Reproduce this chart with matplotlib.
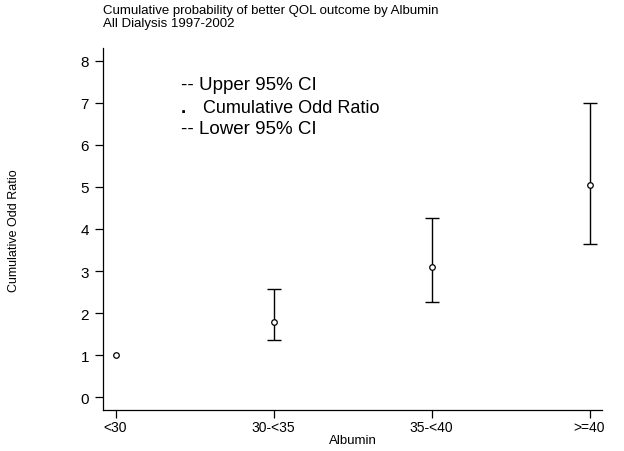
import matplotlib

matplotlib.use("Agg")
import matplotlib.pyplot as plt

categories = ["<30", "30-<35", "35-<40", ">=40"]
odds_ratio = [1.0, 1.80, 3.10, 5.05]
lower_ci = [1.0, 1.37, 2.27, 3.65]
upper_ci = [1.0, 2.57, 4.25, 7.00]
y_ticks = [0, 1, 2, 3, 4, 5, 6, 7, 8]

plt.rcParams["font.family"] = ["Liberation Sans", "DejaVu Sans"]

fig = plt.figure(figsize=(6.24, 4.52), dpi=100)
ax = fig.add_axes([0.165, 0.0907, 0.80, 0.801])

x = list(range(1, len(categories) + 1))
err_lo = [o - l for o, l in zip(odds_ratio, lower_ci)]
err_hi = [u - o for o, u in zip(odds_ratio, upper_ci)]
# only draw CI bars where the interval is non-empty (reference group has none)
keep = [i for i in range(len(x)) if err_lo[i] + err_hi[i] > 0]
ax.errorbar([x[i] for i in keep], [odds_ratio[i] for i in keep],
            yerr=[[err_lo[i] for i in keep], [err_hi[i] for i in keep]],
            fmt="none", ecolor="black", elinewidth=1.0, capsize=5, capthick=1.0)
ax.plot(x, odds_ratio, linestyle="none", marker="o", markersize=4,
        markerfacecolor="white", markeredgecolor="black", markeredgewidth=0.9)

ax.set_xlim(0.92, 4.08)
ax.set_ylim(-0.3, 8.3)
ax.set_xticks(x)
ax.set_xticklabels(categories, fontsize=10)
ax.set_yticks(y_ticks)
ax.set_yticklabels([str(t) for t in y_ticks], fontsize=11)
ax.tick_params(direction="out", length=6, width=0.9, colors="black")
ax.tick_params(axis="x", pad=1.5)
ax.tick_params(axis="y", pad=4)
for side in ["top", "right"]:
    ax.spines[side].set_visible(False)
for side in ["left", "bottom"]:
    ax.spines[side].set_linewidth(0.9)

ax.set_xlabel("Albumin", fontsize=9.5, labelpad=0)
fig.text(0.022, 0.49, "Cumulative Odd Ratio", rotation=90, fontsize=9,
         ha="center", va="center")

fig.text(0.165, 0.976, "Cumulative probability of better QOL outcome by Albumin",
         fontsize=9.5, ha="left", va="center")
fig.text(0.165, 0.947, "All Dialysis 1997-2002", fontsize=9.5, ha="left", va="center")

fig.text(0.290, 0.810, "-- Upper 95% CI", fontsize=13.5, ha="left", va="center")
fig.text(0.290, 0.761, ".", fontsize=13.5, ha="left", va="center", fontweight="bold")
fig.text(0.326, 0.761, "Cumulative Odd Ratio", fontsize=13, ha="left", va="center")
fig.text(0.290, 0.714, "-- Lower 95% CI", fontsize=13.5, ha="left", va="center")

fig.savefig("out.png", dpi=100)
